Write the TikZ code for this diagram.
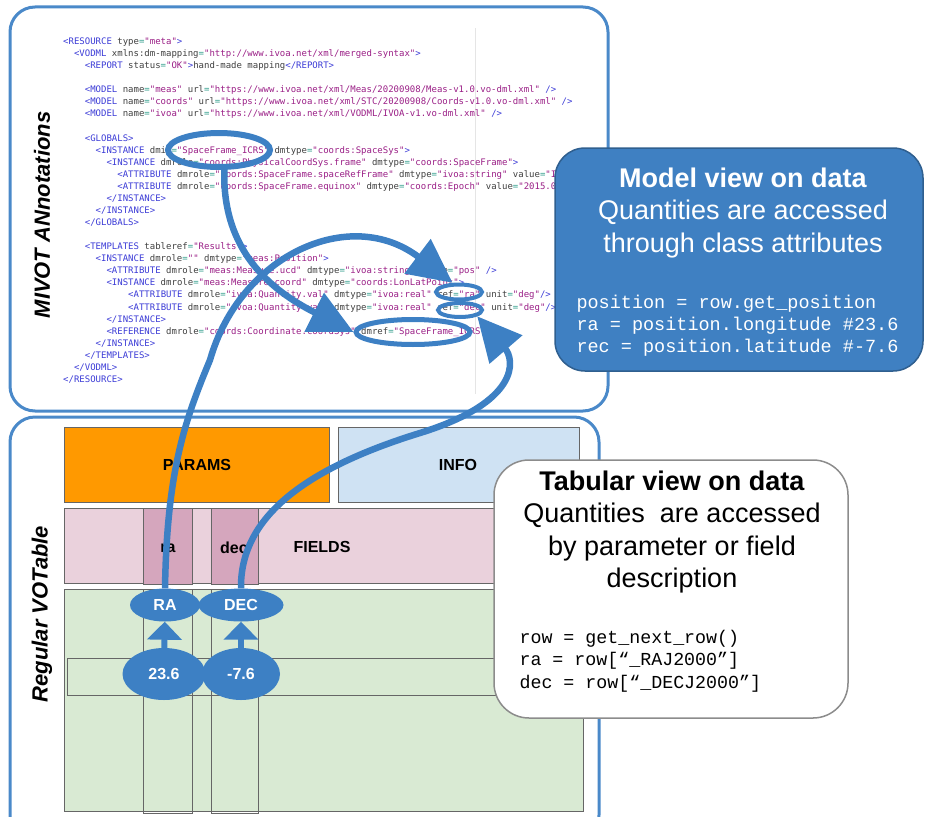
\documentclass[tikz,border=0pt]{standalone}
\usepackage{fontspec}
\setmainfont{Liberation Sans}
\newfontfamily\xmlfont{DejaVu Sans Mono}
\newfontfamily\codefont{Liberation Mono}
\usetikzlibrary{arrows.meta,shapes.geometric}

\definecolor{panelblue}{HTML}{4A89C9}
\definecolor{arrowblue}{HTML}{3D80C4}
\definecolor{modelfill}{HTML}{3F80C2}
\definecolor{modeledge}{HTML}{2F5F8F}
\definecolor{paramsfill}{HTML}{FF9900}
\definecolor{infofill}{HTML}{CFE2F3}
\definecolor{fieldsfill}{HTML}{EAD1DC}
\definecolor{colfill}{HTML}{D5A6BD}
\definecolor{datafill}{HTML}{D9EAD3}
\definecolor{xmltag}{HTML}{3B3BD6}
\definecolor{xmlattr}{HTML}{404040}
\definecolor{xmleq}{HTML}{2E9C8A}
\definecolor{xmlval}{HTML}{9A1F86}

% xml helpers
\newcommand\xtag[1]{\textcolor{xmltag}{#1}}
\newcommand\xatt[2]{\textcolor{xmlattr}{#1}\textcolor{xmleq}{=}\textcolor{xmlval}{"#2"}}
\newcommand\xline[3]{\node[xmlline] (l#1) at ({63+#2*5.42},{42+(#1-1)*12.07}) {#3};}

\begin{document}
\begin{tikzpicture}[x=1pt,y=-1pt,
    panel/.style={draw=panelblue,line width=3pt,rounded corners=25pt},
    tblbox/.style={draw=black!60,line width=1pt},
    tbllabel/.style={font=\fontsize{16}{16}\selectfont\bfseries},
    sidelabel/.style={rotate=90,font=\fontsize{22}{22}\selectfont\bfseries\itshape},
    xmlline/.style={anchor=west,inner sep=0pt,text height=7pt,text depth=2pt,
        text=xmlattr,font=\xmlfont\fontsize{9}{9}\selectfont},
    ring/.style={draw=arrowblue,ellipse,inner sep=0pt},
    valnode/.style={ellipse,fill=arrowblue,text=white,inner sep=0pt,
        font=\fontsize{16}{16}\selectfont\bfseries},
    link/.style={draw=arrowblue,line width=6.5pt,-{Triangle[length=44pt,width=42pt]}},
    uparrow/.style={draw=arrowblue,line width=6pt,-{Triangle[length=18pt,width=34pt]}},
    headtext/.style={align=center,font=\fontsize{27}{32.5}\selectfont},
    codetext/.style={anchor=west,align=left,font=\codefont\fontsize{18.5}{22}\selectfont}]

    \useasboundingbox (0,0) rectangle (925,816);
    \clip (0,0) rectangle (925,816);

    % the two panels
    \draw[panel] (10,7) rectangle (608,411);
    \draw[panel] (10,417) rectangle (599,840);
    \draw[black!10,line width=0.8pt] (475,28) -- (475,394);
    \node[sidelabel] (mivot) at (42,215) {MIVOT ANnotations};
    \node[sidelabel] (votable) at (42,614) {Regular VOTable};

    % annotation block
    \xline{1}{0}{\xtag{<RESOURCE} \xatt{type}{meta}\xtag{>}}
    \xline{2}{2}{\xtag{<VODML} \xatt{xmlns:dm-mapping}{http://www.ivoa.net/xml/merged-syntax}\xtag{>}}
    \xline{3}{4}{\xtag{<REPORT} \xatt{status}{OK}\xtag{>}hand-made mapping\xtag{</REPORT>}}
    \xline{5}{4}{\xtag{<MODEL} \xatt{name}{meas} \xatt{url}{https://www.ivoa.net/xml/Meas/20200908/Meas-v1.0.vo-dml.xml} \xtag{/>}}
    \xline{6}{4}{\xtag{<MODEL} \xatt{name}{coords} \xatt{url}{https://www.ivoa.net/xml/STC/20200908/Coords-v1.0.vo-dml.xml} \xtag{/>}}
    \xline{7}{4}{\xtag{<MODEL} \xatt{name}{ivoa} \xatt{url}{https://www.ivoa.net/xml/VODML/IVOA-v1.vo-dml.xml} \xtag{/>}}
    \xline{9}{4}{\xtag{<GLOBALS>}}
    \xline{10}{6}{\xtag{<INSTANCE} \xatt{dmid}{SpaceFrame\_ICRS} \xatt{dmtype}{coords:SpaceSys}\xtag{>}}
    \xline{11}{8}{\xtag{<INSTANCE} \xatt{dmrole}{coords:PhysicalCoordSys.frame} \xatt{dmtype}{coords:SpaceFrame}\xtag{>}}
    \xline{12}{10}{\xtag{<ATTRIBUTE} \xatt{dmrole}{coords:SpaceFrame.spaceRefFrame} \xatt{dmtype}{ivoa:string} value\textcolor{xmleq}{=}\textcolor{xmlval}{"I}}
    \xline{13}{10}{\xtag{<ATTRIBUTE} \xatt{dmrole}{coords:SpaceFrame.equinox} \xatt{dmtype}{coords:Epoch} value\textcolor{xmleq}{=}\textcolor{xmlval}{"2015.0}}
    \xline{14}{8}{\xtag{</INSTANCE>}}
    \xline{15}{6}{\xtag{</INSTANCE>}}
    \xline{16}{4}{\xtag{</GLOBALS>}}
    \xline{18}{4}{\xtag{<TEMPLATES} \xatt{tableref}{Results}\xtag{>}}
    \xline{19}{6}{\xtag{<INSTANCE} \xatt{dmrole}{} \xatt{dmtype}{meas:Position}\xtag{>}}
    \xline{20}{8}{\xtag{<ATTRIBUTE} \xatt{dmrole}{meas:Measure.ucd} \xatt{dmtype}{ivoa:string} \xatt{value}{pos} \xtag{/>}}
    \xline{21}{8}{\xtag{<INSTANCE} \xatt{dmrole}{meas:Measure.coord} \xatt{dmtype}{coords:LonLatPoint}\xtag{>}}
    \xline{22}{12}{\xtag{<ATTRIBUTE} \xatt{dmrole}{ivoa:Quantity.val} \xatt{dmtype}{ivoa:real} \xatt{ref}{ra} \xatt{unit}{deg}\xtag{/>}}
    \xline{23}{12}{\xtag{<ATTRIBUTE} \xatt{dmrole}{ivoa:Quantity.val} \xatt{dmtype}{ivoa:real} \xatt{ref}{dec} \xatt{unit}{deg}\xtag{/>}}
    \xline{24}{8}{\xtag{</INSTANCE>}}
    \xline{25}{8}{\xtag{<REFERENCE} \xatt{dmrole}{coords:Coordinate.coordSys} \xatt{dmref}{SpaceFrame\_ICRS}}
    \xline{26}{6}{\xtag{</INSTANCE>}}
    \xline{27}{4}{\xtag{</TEMPLATES>}}
    \xline{28}{2}{\xtag{</VODML>}}
    \xline{29}{0}{\xtag{</RESOURCE>}}

    % votable
    \draw[tblbox,fill=paramsfill] (64,427) rectangle (329,502);
    \draw[tblbox,fill=infofill] (338,427) rectangle (579,502);
    \draw[tblbox,fill=fieldsfill] (64,508) rectangle (583,583);
    \draw[tblbox,fill=datafill] (64,589) rectangle (583,811);
    \foreach \xa/\xb in {143/192,211/258} {
        \draw[tblbox,fill=colfill] (\xa,508) rectangle (\xb,584);
        \draw[tblbox] (\xa,589) rectangle (\xb,813);
    }
    \draw[tblbox] (67,658) rectangle (583,695);
    \node[tbllabel] (params) at (197,465) {PARAMS};
    \node[tbllabel] (info) at (458,465) {INFO};
    \node[tbllabel] (fields) at (322,547) {FIELDS};
    \node[tbllabel] (racol) at (168,548) {ra};
    \node[tbllabel] (deccol) at (234,548) {dec};

    % highlighted references
    \node[ring,line width=6pt,minimum width=102pt,minimum height=34pt] (icrs) at (219,150) {};
    \node[ring,line width=5pt,minimum width=114pt,minimum height=25pt] (dmref) at (413,332) {};
    \node[ring,line width=4pt,minimum width=46pt,minimum height=15pt] (refra) at (459,292) {};
    \node[ring,line width=4pt,minimum width=44pt,minimum height=14pt] (refdec) at (460,310) {};

    % values and columns
    \node[valnode,minimum width=70pt,minimum height=33pt] (RA) at (165,605) {RA};
    \node[valnode,minimum width=85pt,minimum height=33pt] (DEC) at (241,605) {DEC};
    \node[valnode,minimum width=83pt,minimum height=52pt] (v236) at (164,674) {23.6};
    \node[valnode,minimum width=78pt,minimum height=52pt] (v76) at (241,674) {-7.6};
    \draw[uparrow] (v236) -- (RA);
    \draw[uparrow] (v76) -- (DEC);

    % links
    \draw[link] (icrs.-75) .. controls (222,250) and (270,290) .. (dmref.west);
    \draw[link] (RA.north) .. controls (167,470) and (185,420) .. (210,360)
        .. controls (240,255) and (350,205) .. (refra.125);
    \draw[link] (DEC.north) .. controls (240,520) and (300,470) .. (420,433)
        .. controls (520,402) and (515,360) .. (refdec.-20);

    % model view
    \node[draw=modeledge,fill=modelfill,line width=1.5pt,rounded corners=30pt,
        minimum width=368pt,minimum height=223pt] (model) at (739,259.5) {};
    \node[headtext,text=white] (modelhead) at (743,213) {\textbf{Model view on data}\\Quantities are accessed\\through class attributes};
    \node[codetext,text=white] (modelcode) at (573,326) {position = row.get\_position\\ra = position.longitude \#23.6\\rec = position.latitude \#-7.6};

    % tabular view
    \node[draw=black!45,fill=white,line width=1.5pt,rounded corners=35pt,
        minimum width=354pt,minimum height=258pt] (tabular) at (671,589) {};
    \node[headtext] (tabhead) at (672,532) {\textbf{Tabular view on data}\\Quantities~ are accessed\\by parameter or field\\description};
    \node[codetext,font=\codefont\fontsize{18.3}{22.5}\selectfont] (tabcode) at (516,661) {row = get\_next\_row()\\ra = row[“\_RAJ2000”]\\dec = row[“\_DECJ2000”]};
\end{tikzpicture}
\end{document}
